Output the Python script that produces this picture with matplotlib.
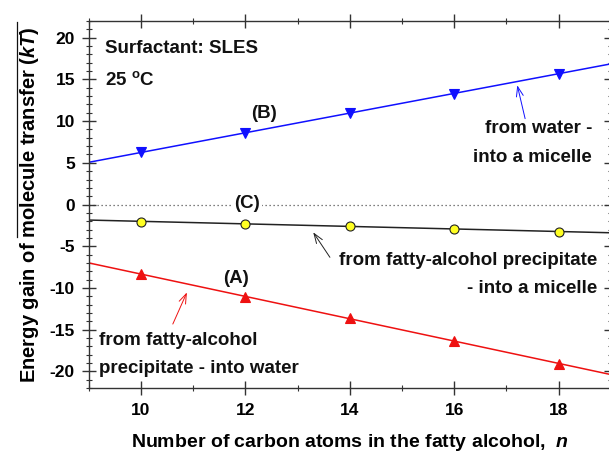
import numpy as np
import matplotlib
matplotlib.use("Agg")
import matplotlib.pyplot as plt
from matplotlib.ticker import MultipleLocator
from matplotlib.lines import Line2D

plt.rcParams["font.family"] = ["Liberation Sans", "DejaVu Sans"]
plt.rcParams["font.weight"] = "bold"
plt.rcParams["axes.unicode_minus"] = False
plt.rcParams["mathtext.fontset"] = "custom"
plt.rcParams["mathtext.rm"] = "Liberation Sans:bold"
plt.rcParams["mathtext.bf"] = "Liberation Sans:bold"
plt.rcParams["mathtext.it"] = "Liberation Sans:italic:bold"

# Number of carbon atoms in the fatty alcohol
n_carbon = [10, 12, 14, 16, 18]
# Energy gain (kT) for each transfer route
gain_A = [-8.33, -11.06, -13.66, -16.35, -19.07]   # precipitate -> water
gain_B = [6.25, 8.6, 10.97, 13.3, 15.7]            # water -> micelle
gain_C = [-2.04, -2.3, -2.6, -2.93, -3.25]         # precipitate -> micelle

x_ticks = [10, 12, 14, 16, 18]
y_ticks = [-20, -15, -10, -5, 0, 5, 10, 15, 20]

fig = plt.figure(figsize=(6.09, 4.53), dpi=100)
ax = fig.add_axes([0.1458, 0.1435, 0.857, 0.81])
ax.set_xlim(9, 19)
ax.set_ylim(-22, 22)

xs = np.array(ax.get_xlim())
ax.axhline(0, color="#555555", lw=0.9, ls=(0, (1, 2.2)), zorder=1)

for vals, col, mk, ms, mec in [
    (gain_B, "#1010ff", "v", 7.5, "#1010ff"),
    (gain_C, "#222222", "o", 6.5, "#222222"),
    (gain_A, "#ee1111", "^", 7.5, "#ee1111"),
]:
    k, b = np.polyfit(n_carbon, vals, 1)
    ax.plot(xs, k * xs + b, color=col, lw=1.1, zorder=2)
    face = "#ffff22" if mk == "o" else col
    ax.plot(n_carbon, vals, ls="none", marker=mk, ms=ms, mfc=face,
            mec=mec, mew=0.8, zorder=3)

ax.xaxis.set_major_locator(MultipleLocator(2))
ax.xaxis.set_minor_locator(MultipleLocator(1))
ax.yaxis.set_major_locator(MultipleLocator(5))
ax.yaxis.set_minor_locator(MultipleLocator(1))
ax.set_xticks(x_ticks)
ax.set_yticks(y_ticks)
ax.tick_params(which="both", direction="inout", top=True, right=True,
               color="#333333", labelsize=12.5)
ax.tick_params(which="major", length=10, width=1.0)
ax.tick_params(axis="y", which="major", pad=5)
ax.tick_params(axis="x", which="major", pad=6)
ax.tick_params(which="minor", length=5, width=0.8)
for s in ax.spines.values():
    s.set_color("#333333")
    s.set_linewidth(1.0)

ax.set_xlabel(r"Number of carbon atoms in the fatty alcohol,  $n$",
              fontsize=14, fontweight="bold", labelpad=10)
ax.set_ylabel(r"Energy gain of molecule transfer ($kT$)",
              fontsize=14.5, fontweight="bold", labelpad=6)

txt = dict(fontsize=13.5, fontweight="bold", color="#111111")
ax.text(9.31, 18.76, "Surfactant: SLES", ha="left", va="center", **txt)
ax.text(9.31, 14.9, r"25 $^{\rm o}$C", ha="left", va="center", **txt)
ax.text(12.35, 10.94, "(B)", ha="center", va="center", **txt)
ax.text(18.65, 9.14, "from water -", ha="right", va="center", **txt)
ax.text(18.63, 5.65, "into a micelle", ha="right", va="center", **txt)
ax.text(12.04, 0.12, "(C)", ha="center", va="center",
        bbox=dict(fc="white", ec="none", pad=1), **txt)
ax.text(18.74, -6.73, "from fatty-alcohol precipitate", ha="right",
        va="center", **txt)
ax.text(18.74, -10.1, "- into a micelle", ha="right", va="center", **txt)
ax.text(11.83, -8.9, "(A)", ha="center", va="center", **txt)
ax.text(9.2, -16.35, "from fatty-alcohol", ha="left", va="center", **txt)
ax.text(9.2, -19.7, "precipitate - into water", ha="left", va="center", **txt)

arrow = dict(arrowstyle="->,head_length=0.7,head_width=0.25", lw=0.7,
             shrinkA=0, shrinkB=0)
ax.annotate("", xy=(17.21, 14.3), xytext=(17.36, 10.3),
            arrowprops=dict(color="#1010ff", **arrow))
ax.annotate("", xy=(13.30, -3.33), xytext=(13.62, -6.33),
            arrowprops=dict(color="#222222", **arrow))
ax.annotate("", xy=(10.88, -10.54), xytext=(10.61, -14.33),
            arrowprops=dict(color="#ee1111", **arrow))

# Overline above "molecule transfer (kT)" in the y-axis label
fig.canvas.draw()
r = fig.canvas.get_renderer()
lab = ax.yaxis.label
bb = lab.get_window_extent(r)
tmp = fig.text(0, 0, "Energy gain of ", fontproperties=lab.get_fontproperties())
w = tmp.get_window_extent(r).width
tmp.remove()
x_line = (bb.x0 - 1) / fig.bbox.width
y0 = (bb.y0 + w) / fig.bbox.height
y1 = (bb.y1 + 4) / fig.bbox.height
fig.add_artist(Line2D([x_line, x_line], [y0, y1], transform=fig.transFigure,
                      color="#111111", lw=0.9))

fig.savefig("out.png", dpi=100)
